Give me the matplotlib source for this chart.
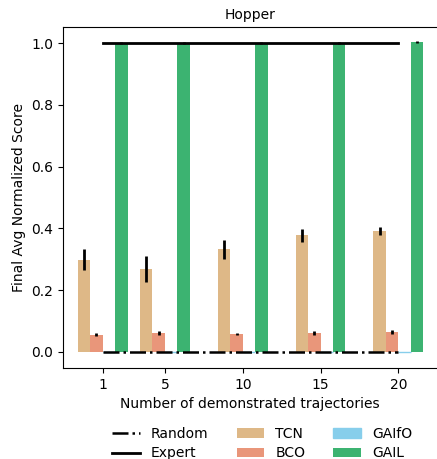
import matplotlib
matplotlib.use("Agg")
import matplotlib.pyplot as plt
import numpy as np

trajectories = [1, 5, 10, 15, 20]
tick_labels = ["1", "5", "10", "15", "20"]
tcn_mean = [0.298, 0.269, 0.333, 0.377, 0.392]
tcn_err = [0.034, 0.042, 0.031, 0.022, 0.013]
bco_mean = [0.055, 0.061, 0.058, 0.061, 0.064]
bco_err = [0.005, 0.006, 0.004, 0.006, 0.006]
gaifo_mean = [0.0, 0.0, 0.0, 0.0, 0.0]
gaifo_err = [0.0, 0.0, 0.0, 0.0, 0.0]
gail_mean = [1.0, 1.0, 1.0, 1.0, 1.003]
gail_err = [0.002, 0.002, 0.002, 0.002, 0.003]
random_score = [0.0, 0.0, 0.0, 0.0, 0.0]
expert_score = [1.0, 1.0, 1.0, 1.0, 1.0]

x = np.array(trajectories, dtype=float)
w = 0.8

fig = plt.figure(figsize=(4.37, 4.59), dpi=100)
ax = fig.add_axes([63/437, (459-368)/459, (437-63)/437, (368-27)/459])

ekw = dict(elinewidth=2, ecolor="black", capsize=0)
ax.bar(x - 1.5*w, tcn_mean, w, yerr=tcn_err, color="burlywood", label="TCN", error_kw=ekw)
ax.bar(x - 0.5*w, bco_mean, w, yerr=bco_err, color="darksalmon", label="BCO", error_kw=ekw)
ax.bar(x + 0.5*w, gaifo_mean, w, yerr=gaifo_err, color="skyblue", label="GAIfO",
       edgecolor="skyblue", linewidth=1, error_kw=ekw)
ax.bar(x + 1.5*w, gail_mean, w, yerr=gail_err, color="mediumseagreen", label="GAIL", error_kw=ekw)
ax.plot(x, random_score, color="black", linestyle="-.", linewidth=1.8, label="Random")
ax.plot(x, expert_score, color="black", linestyle="-", linewidth=2, label="Expert")

ax.set_xlim(-1.55, 22.48)
ax.set_ylim(-0.052, 1.052)
ax.set_xticks(x)
ax.set_xticklabels(tick_labels)
ax.set_yticks([0.0, 0.2, 0.4, 0.6, 0.8, 1.0])
ax.set_xlabel("Number of demonstrated trajectories")
ax.set_ylabel("Final Avg Normalized Score")
ax.set_title("Hopper", fontsize=10)
ax.spines["right"].set_visible(False)

h, l = ax.get_legend_handles_labels()
order = [l.index(n) for n in ["Random", "Expert", "TCN", "BCO", "GAIfO", "GAIL"]]
fig.legend([h[i] for i in order], [l[i] for i in order], ncol=3, frameon=False,
           loc="upper center", bbox_to_anchor=(0.6, 0.088), fontsize=10,
           handlelength=2, columnspacing=2.0, labelspacing=0.4, borderpad=0.1)

fig.savefig("out.png", dpi=100)
